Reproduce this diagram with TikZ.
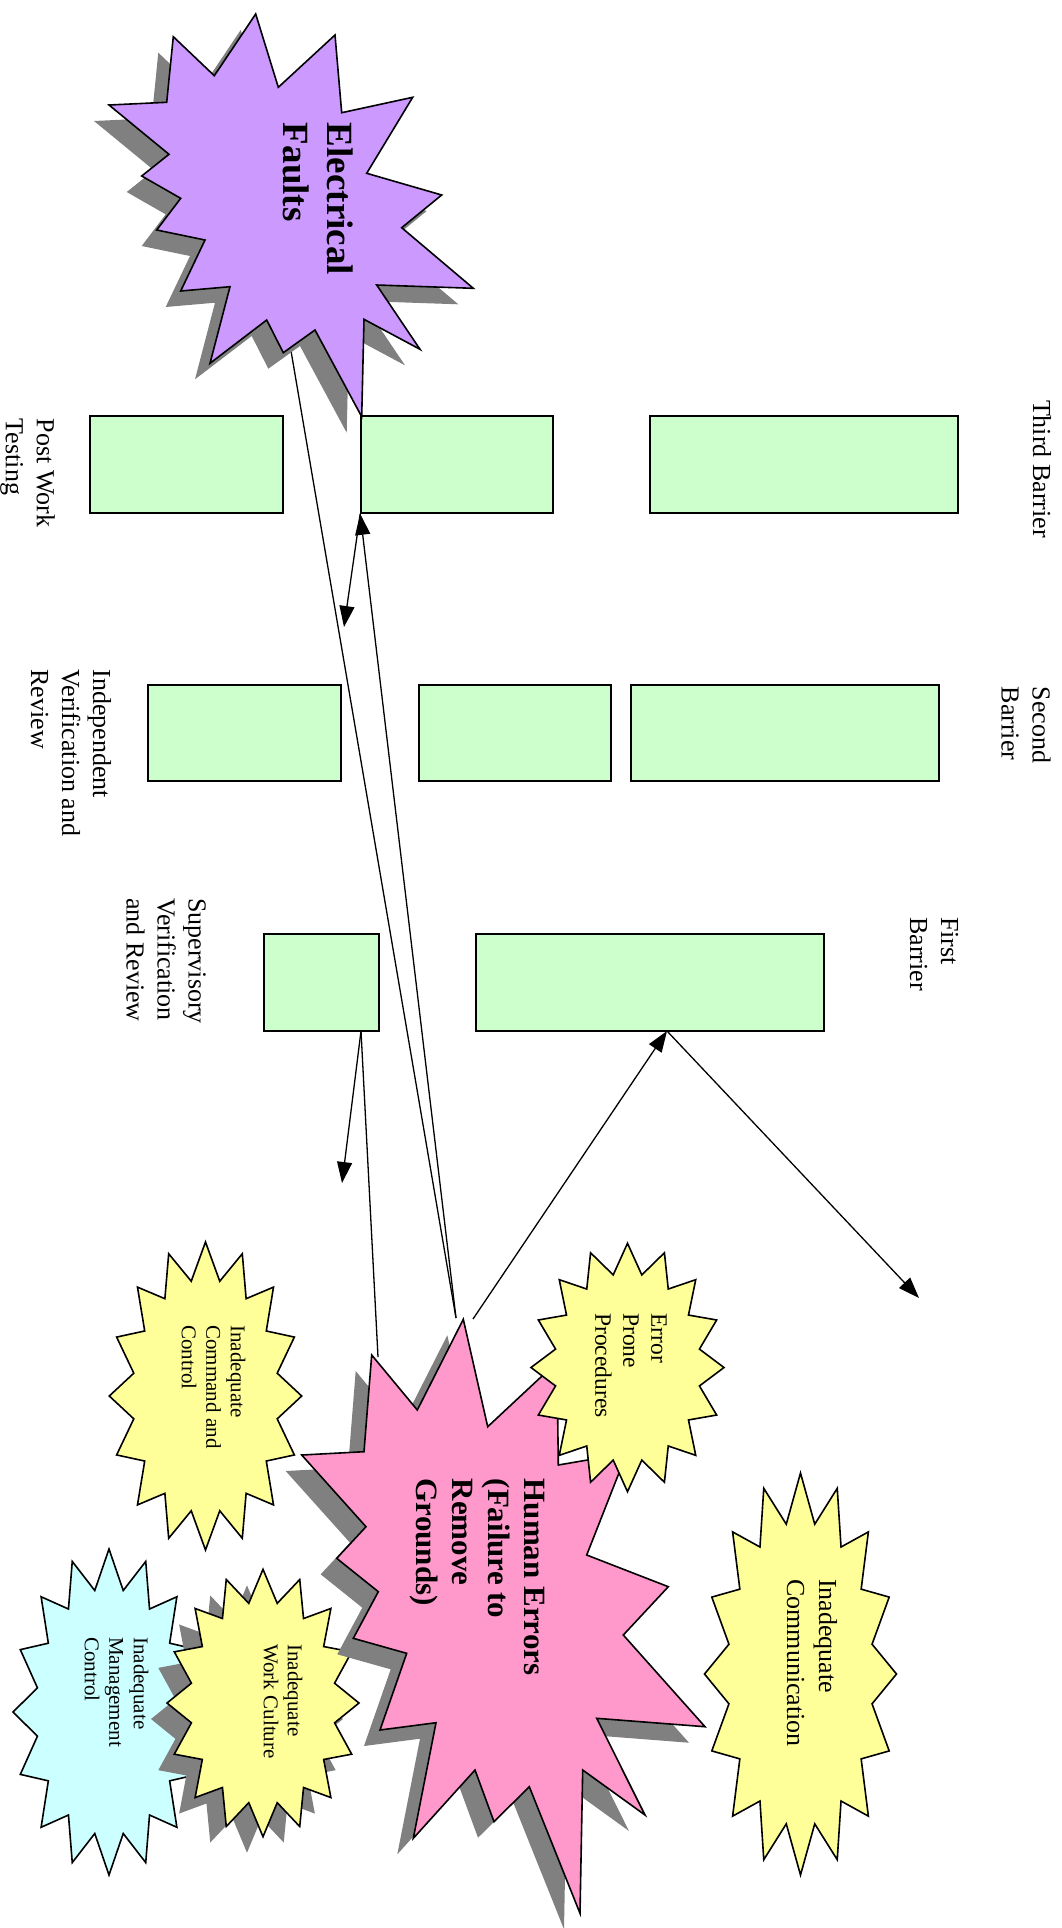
\documentclass[tikz,border=0pt]{standalone}
\usepackage{fontspec}
\setmainfont{Liberation Serif}
\usetikzlibrary{arrows.meta}

\definecolor{barfill}{HTML}{CCFFCC}
\definecolor{elecfill}{HTML}{CC99FF}
\definecolor{humanfill}{HTML}{FF99CC}
\definecolor{causefill}{HTML}{FFFF99}
\definecolor{mgmtfill}{HTML}{CCFFFF}
\definecolor{shade}{HTML}{808080}

% sixteen-point burst: style, centre x, centre y, half width, half height
\newcommand\burst[5]{%
  \path[#1] plot[samples at={0,...,31}, variable=\kk]
    ({#2+#4*sin(\kk*11.25)*(1-0.24*mod(\kk,2))},
     {#3-#5*cos(\kk*11.25)*(1-0.24*mod(\kk,2))}) -- cycle;}

% outline of the "Electrical Faults" explosion
\newcommand\elecoutline[1]{%
  \path[#1] (255.7,14) -- (278.3,87.3) -- (335,35) -- (341.7,112.7)
    -- (412.7,97.3) -- (366.7,173.3) -- (441.7,195) -- (401.7,227.7)
    -- (473.3,288.3) -- (376.7,285) -- (420,349.3) -- (364,319.3)
    -- (361.7,416.7) -- (315,330) -- (283.3,352.7) -- (266.7,320)
    -- (210,363.3) -- (230,286.7) -- (180.7,291) -- (205,240)
    -- (156.7,230) -- (180.7,198.3) -- (141.7,176) -- (169,154.3)
    -- (109,105) -- (166.7,102.3) -- (173.3,36.7) -- (214.3,75.7) -- cycle;}

% outline of the "Human Errors" explosion
\newcommand\humanoutline[1]{%
  \path[#1] (463.3,1319.3) -- (487.7,1426.7) -- (557,1362) -- (558.3,1465)
    -- (626.7,1453.3) -- (586.7,1555) -- (668.3,1586.7) -- (623.3,1635)
    -- (705,1726.7) -- (596.7,1718.3) -- (645,1815) -- (582.7,1770)
    -- (580,1913.3) -- (529.3,1786.7) -- (494,1821.7) -- (475,1770)
    -- (413.3,1838.3) -- (436,1722.7) -- (380,1730) -- (406.7,1653.3)
    -- (353.3,1638.3) -- (378.3,1591.7) -- (336.7,1558.3) -- (366,1526.7)
    -- (301.7,1455) -- (364,1451.7) -- (371.7,1355) -- (417.3,1410) -- cycle;}

\tikzset{
  barbox/.style={draw=black, line width=1.6pt, fill=barfill, inner sep=0pt},
  starline/.style={draw=black, line width=1.6pt, line join=miter},
  link/.style={draw=black, line width=1.3pt},
  tip/.style={link, -{Triangle[length=21pt, width=15pt]}},
  lbl/.style={rotate=-90, align=left, inner sep=0pt},
}

\begin{document}
\begin{tikzpicture}[x=1pt, y=-1pt]
\fill[white] (0,0) rectangle (1062,1928);
\useasboundingbox (0,0) rectangle (1062,1928);

% barrier blocks
\node[barbox, minimum width=193pt, minimum height=97pt] (t1) at (186.5,464.5) {};
\node[barbox, minimum width=192pt, minimum height=97pt] (t2) at (457,464.5) {};
\node[barbox, minimum width=308pt, minimum height=97pt] (t3) at (804,464.5) {};
\node[barbox, minimum width=193pt, minimum height=96pt] (s1) at (244.5,733) {};
\node[barbox, minimum width=192pt, minimum height=96pt] (s2) at (515,733) {};
\node[barbox, minimum width=308pt, minimum height=96pt] (s3) at (785,733) {};
\node[barbox, minimum width=115pt, minimum height=97pt] (f1) at (321.5,982.5) {};
\node[barbox, minimum width=348pt, minimum height=97pt] (f2) at (650,982.5) {};

% connector end points
\coordinate (elecfoot) at (290,345);
\coordinate (humtopa) at (456,1318);
\coordinate (humtopb) at (473,1319);
\coordinate (humleft) at (378,1357);
\coordinate (holeb) at (344,627);
\coordinate (supout) at (361,1031);
\coordinate (holea) at (342,1183);
\coordinate (firsthit) at (667,1031);
\coordinate (deflect) at (919,1298);

\draw[link] (elecfoot) -- (humtopa);
\draw[tip] (humtopa) -- (t2.south west);
\draw[tip] (t2.south west) -- (holeb);
\draw[link] (humleft) -- (supout);
\draw[tip] (supout) -- (holea);
\draw[tip] (humtopb) -- (firsthit);
\draw[tip] (firsthit) -- (deflect);

% causes
\burst{fill=mgmtfill, starline}{109}{1712}{96}{163}
\burst{fill=causefill, starline}{205.5}{1396}{96.2}{154}
\burst{fill=shade}{247}{1719}{96}{133.7}
\burst{fill=causefill, starline}{263}{1703}{96}{133.7}
\humanoutline{fill=shade, shift={(-16,16)}}
\humanoutline{fill=humanfill, starline}
\burst{fill=causefill, starline}{627.5}{1367.5}{96.5}{124.2}
\burst{fill=causefill, starline}{800.5}{1674}{96}{201}
\elecoutline{fill=shade, shift={(-15,16)}}
\elecoutline{fill=elecfill, starline}

% labels
\node[lbl, font=\fontsize{26}{31}\selectfont] (third) at (1042,469) {Third Barrier};
\node[lbl, font=\fontsize{26}{31}\selectfont] (second) at (1026,725) {Second\\Barrier};
\node[lbl, font=\fontsize{26}{31}\selectfont] (first) at (934,954) {First\\Barrier};
\node[lbl, font=\fontsize{26}{31}\selectfont] (post) at (27.5,473) {Post Work\\Testing};
\node[lbl, font=\fontsize{26}{31}\selectfont] (indep) at (71,753) {Independent\\Verification and\\Review};
\node[lbl, font=\fontsize{26}{31}\selectfont] (superv) at (166,961) {Supervisory\\Verification\\and Review};

\node[lbl, font=\bfseries\fontsize{37}{44}\selectfont] (elec) at (318,199) {Electrical\\Faults};
\node[lbl, font=\bfseries\fontsize{31}{36}\selectfont] (human) at (477,1577) {Human Errors\\(Failure to\\Remove\\Grounds)};

\node[lbl, font=\fontsize{21}{24.5}\selectfont] (cmd) at (213.5,1387) {Inadequate\\Command and\\Control};
\node[lbl, font=\fontsize{23.5}{28}\selectfont] (errp) at (631,1365.5) {Error\\Prone\\Procedures};
\node[lbl, font=\fontsize{26}{32}\selectfont] (comm) at (812,1663) {Inadequate\\Communication};
\node[lbl, font=\fontsize{21}{24}\selectfont] (work) at (283,1701.5) {Inadequate\\Work Culture};
\node[lbl, font=\fontsize{21}{24.5}\selectfont] (mgmt) at (116.5,1692) {Inadequate\\Management\\Control};
\end{tikzpicture}
\end{document}
